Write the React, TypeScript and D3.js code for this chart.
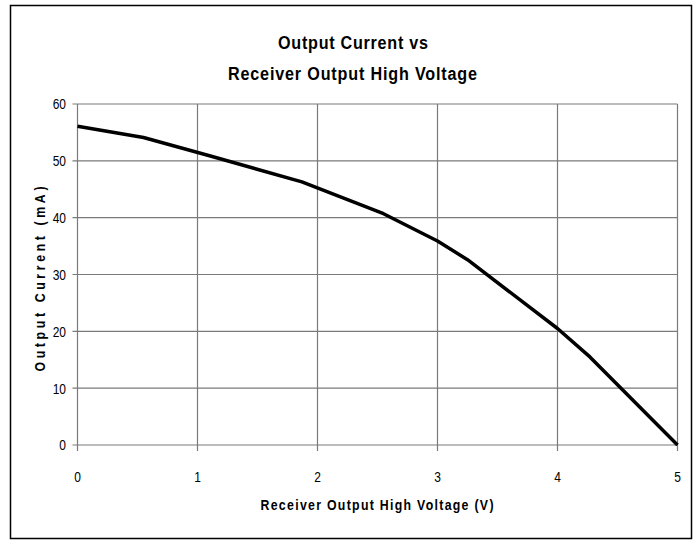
import React from "react";
import * as d3 from "d3";

const voltage = [0, 0.55, 1.1, 1.87, 2.55, 3.0, 3.25, 4.0, 4.27, 5];
const current = [56.1, 54.1, 50.9, 46.3, 40.7, 35.9, 32.6, 20.5, 15.5, 0];
const xTicks = [0, 1, 2, 3, 4, 5];
const yTicks = [0, 10, 20, 30, 40, 50, 60];
const titleLines = ["Output Current vs", "Receiver Output High Voltage"];
const xLabel = "Receiver Output High Voltage (V)";
const yLabel = "Output Current (mA)";

const W = 699;
const H = 541;
const FONT = "'Liberation Sans', Arial, sans-serif";

type NTProps = {
  x: number;
  y: number;
  sx?: number;
  rotate?: number;
  anchor?: "start" | "middle" | "end";
  size: number;
  bold?: boolean;
  length?: number;
  dy?: string;
  children: string;
};

function NarrowText({ x, y, sx = 0.8, rotate = 0, anchor = "middle", size, bold, length, dy, children }: NTProps) {
  return (
    <text
      transform={`translate(${x},${y}) rotate(${rotate}) scale(${sx},1)`}
      textAnchor={anchor}
      fontFamily={FONT}
      fontWeight={bold ? "bold" : "normal"}
      fontSize={size}
      dy={dy}
      fill="#000"
      {...(length ? { textLength: length / sx, lengthAdjust: "spacing" } : {})}
    >
      {children}
    </text>
  );
}

export default function App() {
  const x = d3.scaleLinear().domain([0, 5]).range([77.5, 677.5]);
  const y = d3.scaleLinear().domain([0, 60]).range([445, 104]);
  const pts = voltage.map((v, i) => [v, current[i]] as [number, number]);
  const line = d3
    .line<[number, number]>()
    .x((d) => x(d[0]))
    .y((d) => y(d[1]));
  const grid = "#7a7a7a";
  return (
    <svg
      width={W}
      height={H}
      style={{ position: "absolute", left: 0, top: 0, background: "#fff" }}
    >
      <rect x={10.5} y={5.5} width={681} height={533} fill="#fff" stroke="#000" strokeWidth={1.5} />
      <NarrowText x={353} y={48.5} sx={0.85} size={19} bold length={150}>{titleLines[0]}</NarrowText>
      <NarrowText x={352.5} y={79.5} sx={0.85} size={19} bold length={249}>{titleLines[1]}</NarrowText>
      {yTicks.map((t) => (
        <g key={"y" + t}>
          <line x1={72.5} x2={677.5} y1={y(t)} y2={y(t)} stroke={grid} strokeWidth={1.2} />
          <NarrowText x={66} y={y(t)} dy="0.36em" anchor="end" size={15}>{String(t)}</NarrowText>
        </g>
      ))}
      {xTicks.map((t) => (
        <g key={"x" + t}>
          <line x1={x(t)} x2={x(t)} y1={104} y2={451} stroke={grid} strokeWidth={1.2} />
          <NarrowText x={x(t)} y={482} size={15}>{String(t)}</NarrowText>
        </g>
      ))}
      <path d={line(pts) || ""} fill="none" stroke="#000" strokeWidth={3.5} strokeLinejoin="round" />
      <NarrowText x={377} y={509.5} sx={0.85} size={14.5} bold length={233}>{xLabel}</NarrowText>
      <NarrowText x={45} y={279} rotate={-90} sx={0.85} size={14.5} bold length={185}>{yLabel}</NarrowText>
    </svg>
  );
}
